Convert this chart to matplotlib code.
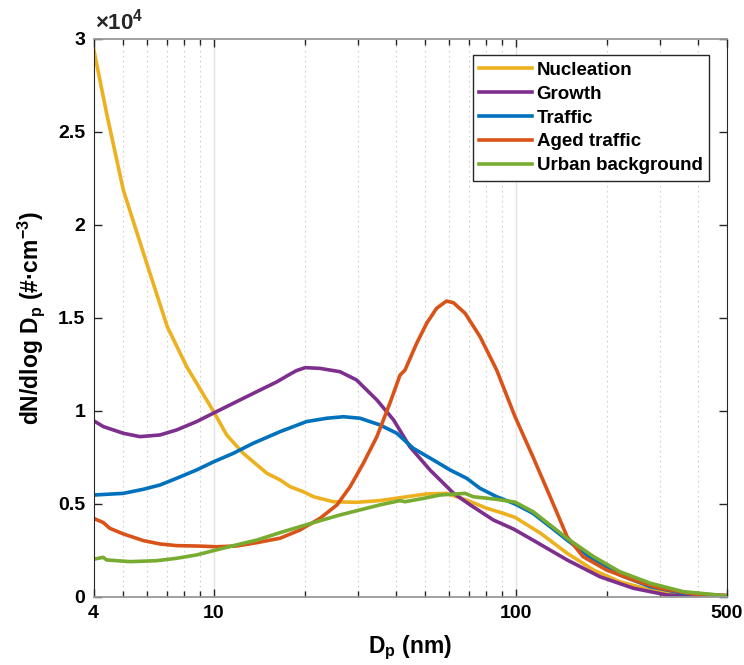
import matplotlib
matplotlib.use("Agg")
import matplotlib.pyplot as plt
from matplotlib.ticker import FixedLocator, FuncFormatter, NullFormatter

plt.rcParams['font.family'] = ['Liberation Sans', 'DejaVu Sans']
plt.rcParams['font.weight'] = 'bold'
plt.rcParams['mathtext.fontset'] = 'custom'
plt.rcParams['mathtext.rm'] = 'Liberation Sans:bold'
plt.rcParams['mathtext.bf'] = 'Liberation Sans:bold'
plt.rcParams['mathtext.default'] = 'bf'

# size distributions, diameter in nm, dN/dlogDp in #/cm3
nuc_d = [4, 4.42, 5.02, 6.0, 7.02, 8.14, 10, 11.04, 12.53, 15.0, 16.6, 17.9, 19.8, 21.4, 24.9, 29.7,
         35.5, 42.4, 50.7, 59.0, 68.8, 80.1, 88.8, 99.5, 121, 148, 181, 221, 279, 358, 500]
nuc_n = [29500, 26000, 21880, 17940, 14530, 12380, 9960, 8710, 7720, 6650, 6290, 5930, 5660, 5390, 5120, 5090,
         5180, 5360, 5540, 5570, 5210, 4770, 4550, 4280, 3420, 2350, 1450, 820, 376, 110, 30]

gro_d = [4, 4.31, 5.02, 5.7, 6.64, 7.54, 8.78, 10.2, 11.9, 13.9, 16.2, 17.9, 18.8, 20.1, 22.5, 26.2,
         29.7, 34.7, 39.4, 44.6, 52, 62.3, 70.7, 84.3, 98.4, 114, 148, 190, 245, 316, 405, 500]
gro_n = [9480, 9160, 8800, 8620, 8710, 8980, 9430, 9960, 10500, 11040, 11570, 11980, 12170, 12330, 12290, 12110,
         11670, 10590, 9520, 8080, 6830, 5570, 4950, 4140, 3650, 3060, 1990, 1090, 470, 110, 20, 0]

tra_d = [4, 5.02, 5.85, 6.64, 7.54, 8.78, 10, 11.6, 13.5, 16.6, 20.3, 23.7, 26.9, 30.5,
         35.5, 40.4, 45.8, 53.3, 60.6, 68.8, 76.2, 86.5, 99.5, 114, 130, 148, 181, 221, 279, 358, 500]
tra_n = [5480, 5570, 5790, 6020, 6380, 6830, 7270, 7720, 8260, 8890, 9430, 9610, 9690, 9610,
         9250, 8800, 7990, 7370, 6830, 6380, 5840, 5390, 5000, 4500, 3780, 3060, 1990, 1180, 550, 200, 40]

age_d = [4, 4.31, 4.53, 5.02, 5.85, 6.64, 7.54, 8.78, 10.2, 11.9, 13.9, 16.6, 19.3, 22.5,
         25.6, 28.3, 31.3, 34.7, 38.3, 41.4, 43.0, 47, 50.7, 54.7, 59, 62.2, 68, 76.2, 86.5,
         99.5, 114, 130, 148, 167, 200, 245, 300, 387, 500]
age_n = [4230, 4000, 3690, 3390, 3030, 2850, 2760, 2740, 2700, 2740, 2920, 3160, 3600, 4230,
         4950, 5930, 7190, 8620, 10410, 11930, 12200, 13640, 14710, 15520, 15910, 15820, 15250, 13990, 12200,
         9690, 7540, 5390, 3240, 2170, 1450, 910, 470, 160, 90]

urb_d = [4, 4.31, 4.42, 5.28, 6.47, 7.54, 8.78, 10.2, 11.9, 13.9, 16.6, 19.3, 22.5, 26.2,
         30.5, 35.5, 41.4, 43.0, 49.5, 56.1, 68, 72.3, 86.5, 99.5, 114, 130, 148, 181, 221, 279, 358, 500]
urb_n = [2030, 2130, 1990, 1900, 1950, 2080, 2260, 2530, 2800, 3060, 3460, 3780, 4100, 4410,
         4680, 4950, 5180, 5120, 5300, 5480, 5570, 5390, 5250, 5100, 4590, 3870, 3150, 2170, 1360, 740, 290, 60]

names = ['Nucleation', 'Growth', 'Traffic', 'Aged traffic', 'Urban background']
colors = ['#EDB120', '#7E2F8E', '#0072BD', '#D95319', '#77AC30']

fig = plt.figure(figsize=(7.44, 6.65), dpi=100)
ax = fig.add_axes([0.1257, 0.1023, 0.8512, 0.8391])

series = [(nuc_d, nuc_n), (gro_d, gro_n), (tra_d, tra_n), (age_d, age_n), (urb_d, urb_n)]
for (d, n), name, c in zip(series, names, colors):
    ax.plot(d, n, color=c, lw=2.6, label=name, solid_joinstyle='round')

ax.set_xscale('log')
ax.set_xlim(4, 500)
ax.set_ylim(0, 30000)

major_x = [4, 10, 100, 500]
minor_x = [5, 6, 7, 8, 9, 20, 30, 40, 50, 60, 70, 80, 90, 200, 300, 400]
ax.xaxis.set_major_locator(FixedLocator(major_x))
ax.xaxis.set_major_formatter(FuncFormatter(lambda v, p: '%d' % v))
ax.xaxis.set_minor_locator(FixedLocator(minor_x))
ax.xaxis.set_minor_formatter(NullFormatter())

ax.set_yticks([0, 5000, 10000, 15000, 20000, 25000, 30000])
ax.yaxis.set_major_formatter(FuncFormatter(lambda v, p: '%g' % (v / 1e4)))

# vertical grid: solid at decades, dotted elsewhere
for x in [10, 100]:
    ax.axvline(x, color='#e3e3e3', lw=1.0, zorder=0)
for x in minor_x:
    ax.axvline(x, color='#d0d0d0', lw=0.8, ls=(0, (1.5, 3)), zorder=0)

ax.tick_params(which='both', direction='in', top=True, right=True,
               labelsize=14, color='#262626', width=1.0, pad=6)
ax.tick_params(which='major', length=6)
ax.tick_params(which='minor', length=4)
for lab in ax.get_xticklabels() + ax.get_yticklabels():
    lab.set_fontweight('bold')

for s in ['left', 'right']:
    ax.spines[s].set_color('#262626')
for s in ['top', 'bottom']:
    ax.spines[s].set_color('#999999')
    ax.spines[s].set_linewidth(1.3)

ax.text(0.003, 1.008, '×10$^{4}$', transform=ax.transAxes, fontsize=16,
        fontweight='bold', ha='left', va='bottom', color='#262626')

ax.set_xlabel(r'D$_p$ (nm)', fontsize=16.5, fontweight='bold', labelpad=8)
ax.set_ylabel(r'dN/dlog D$_p$ (#·cm$^{-3}$)', fontsize=16.5, fontweight='bold', labelpad=8)

leg = ax.legend(loc='upper right', bbox_to_anchor=(0.972, 0.971), fontsize=13.5,
                frameon=True, fancybox=False, edgecolor='#262626', framealpha=1,
                handlelength=2.8, handletextpad=0.25, labelspacing=0.36,
                borderpad=0.35, borderaxespad=0)
leg.get_frame().set_linewidth(1.0)
for t in leg.get_texts():
    t.set_fontweight('bold')

fig.savefig('out.png', dpi=100)
